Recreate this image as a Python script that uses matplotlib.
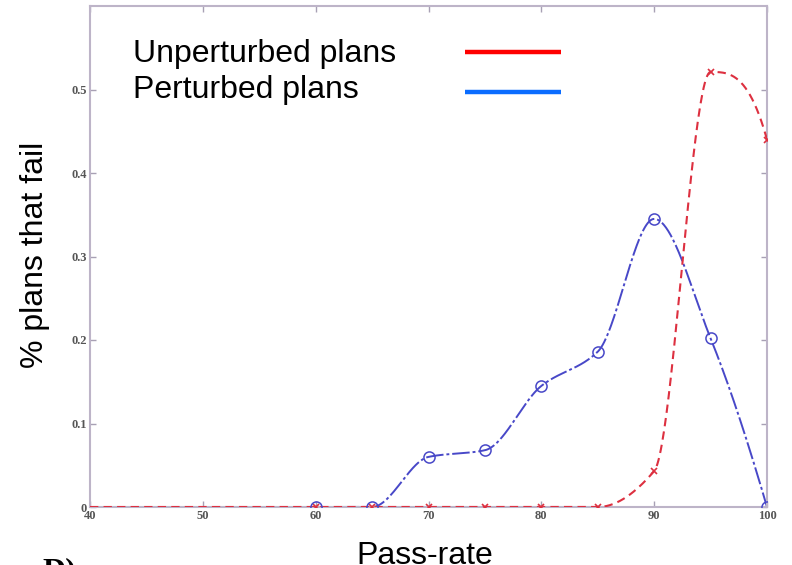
import numpy as np
import matplotlib
matplotlib.use("Agg")
import matplotlib.pyplot as plt
from matplotlib.lines import Line2D

# pass-rate thresholds (%)
pass_rate = [40, 45, 50, 55, 60, 65, 70, 75, 80, 85, 90, 95, 100]
unperturbed = [0, 0, 0, 0, 0, 0, 0, 0, 0, 0, 0.043, 0.521, 0.44]

pass_rate_pert = [60, 65, 70, 75, 80, 85, 90, 95, 100]
perturbed = [0, 0, 0.06, 0.068, 0.145, 0.186, 0.345, 0.202, 0]

legend_labels = ["Unperturbed plans", "Perturbed plans"]
xticks = [40, 50, 60, 70, 80, 90, 100]
yticks = [0, 0.1, 0.2, 0.3, 0.4, 0.5]
ytick_labels = ["0", "0.1", "0.2", "0.3", "0.4", "0.5"]


def pchip(x, y, xs):
    # shape preserving piecewise cubic through the points
    x = np.asarray(x, float)
    y = np.asarray(y, float)
    h = np.diff(x)
    d = np.diff(y) / h
    n = len(x)
    m = np.zeros(n)
    for k in range(1, n - 1):
        if d[k - 1] * d[k] > 0:
            w1 = 2 * h[k] + h[k - 1]
            w2 = h[k] + 2 * h[k - 1]
            m[k] = (w1 + w2) / (w1 / d[k - 1] + w2 / d[k])

    def end(h0, h1, d0, d1):
        s = ((2 * h0 + h1) * d0 - h0 * d1) / (h0 + h1)
        if np.sign(s) != np.sign(d0):
            return 0.0
        if np.sign(d0) != np.sign(d1) and abs(s) > abs(3 * d0):
            return 3 * d0
        return s

    m[0] = end(h[0], h[1], d[0], d[1])
    m[-1] = end(h[-1], h[-2], d[-1], d[-2])

    xs = np.asarray(xs, float)
    i = np.clip(np.searchsorted(x, xs) - 1, 0, n - 2)
    t = (xs - x[i]) / h[i]
    h00 = 2 * t**3 - 3 * t**2 + 1
    h10 = t**3 - 2 * t**2 + t
    h01 = -2 * t**3 + 3 * t**2
    h11 = t**3 - t**2
    return h00 * y[i] + h10 * h[i] * m[i] + h01 * y[i + 1] + h11 * h[i] * m[i + 1]


W, H = 792, 565
fig = plt.figure(figsize=(W / 100, H / 100), dpi=100)
ax = fig.add_axes([90 / W, 1 - 507 / H, (767 - 90) / W, (507 - 6) / H])

red = "#dd3040"
blue = "#4848c8"

xs = np.linspace(pass_rate[0], pass_rate[-1], 600)
ax.plot(xs, pchip(pass_rate, unperturbed, xs), color=red, lw=1.5,
        dashes=(4, 2.5), zorder=3)
ax.plot(pass_rate[4:], unperturbed[4:], ls="none", marker="x",
        color=red, ms=5, mew=1.2, zorder=4)

xs2 = np.linspace(pass_rate_pert[0], pass_rate_pert[-1], 600)
ax.plot(xs2, pchip(pass_rate_pert, perturbed, xs2), color=blue, lw=1.4,
        dashes=(9, 1.5, 1.5, 1.5), zorder=2)
ax.plot(pass_rate_pert, perturbed, ls="none", marker="o", mfc="none",
        mec=blue, ms=8, mew=1.1, zorder=4)

ax.set_xlim(40, 100)
ax.set_ylim(0, 0.6)
ax.set_xticks(xticks)
ax.set_yticks(yticks)
ax.set_yticklabels(ytick_labels)

spine_col = "#bdb4c8"
for s in ax.spines.values():
    s.set_color(spine_col)
    s.set_linewidth(1.5)
ax.tick_params(direction="in", length=4, width=1, color="#a8a0b4",
               top=True, right=True, labelsize=9, labelcolor="#555555", pad=2)
for lab in ax.get_xticklabels() + ax.get_yticklabels():
    lab.set_family("Liberation Serif")
    lab.set_fontweight("bold")

# legend: labels on the left, line samples on the right
font = dict(family="Liberation Sans", fontsize=23, color="black")
fig.text(133 / W, 1 - 62 / H, legend_labels[0], va="baseline", ha="left", **font)
fig.text(133 / W, 1 - 98 / H, legend_labels[1], va="baseline", ha="left", **font)
fig.add_artist(Line2D([465 / W, 561 / W], [1 - 52 / H, 1 - 52 / H],
                      color="#ff0000", lw=3.2, solid_capstyle="butt"))
fig.add_artist(Line2D([465 / W, 561 / W], [1 - 92 / H, 1 - 92 / H],
                      color="#0a6cff", lw=3.2, solid_capstyle="butt"))

fig.text(35 / W, 1 - 255 / H, "% plans that fail", rotation=90,
         ha="center", va="center", **font)
fig.text(425 / W, 1 / H, "Pass-rate", ha="center", va="baseline", **font)
fig.text(42 / W, 1 - 557 / H, "D)", ha="left", va="top",
         family="Liberation Serif", fontweight="bold", fontsize=23)

fig.savefig("out.png", dpi=100)
